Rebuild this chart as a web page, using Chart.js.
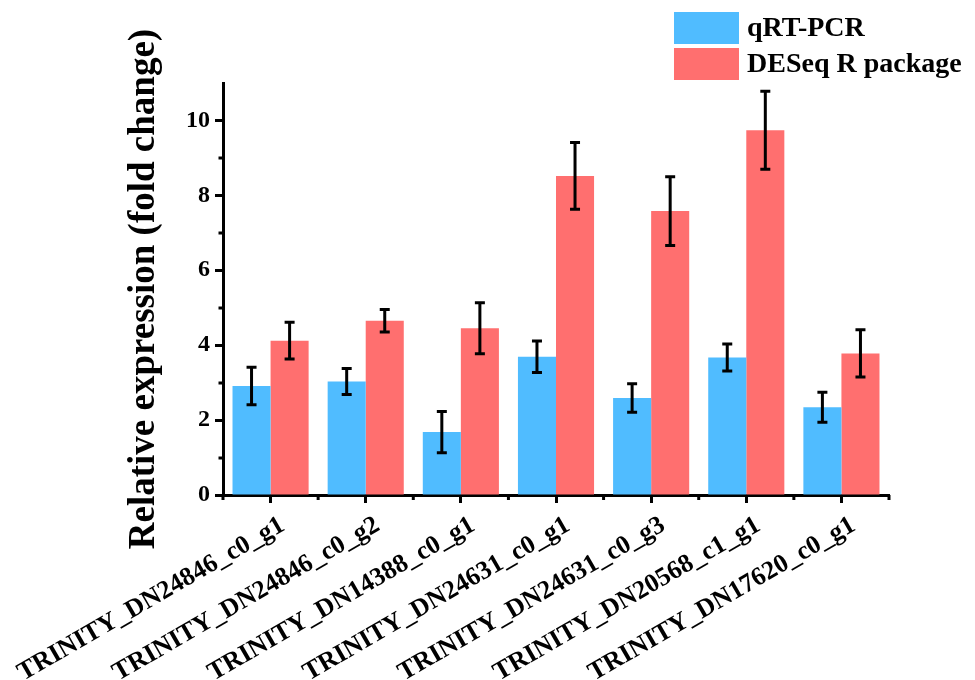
<!DOCTYPE html>
<html>
<head>
<meta charset="utf-8">
<script src="https://cdn.jsdelivr.net/npm/chart.js@4.4.1/dist/chart.umd.min.js"></script>
<style>
  html, body { margin: 0; padding: 0; background: #ffffff; }
  #wrap { width: 975px; height: 680px; position: relative; }
</style>
</head>
<body>
<div id="wrap"><canvas id="c" width="975" height="680"></canvas></div>
<script>
const categories = [
  'TRINITY_DN24846_c0_g1',
  'TRINITY_DN24846_c0_g2',
  'TRINITY_DN14388_c0_g1',
  'TRINITY_DN24631_c0_g1',
  'TRINITY_DN24631_c0_g3',
  'TRINITY_DN20568_c1_g1',
  'TRINITY_DN17620_c0_g1'
];
const seriesNames = ['qRT-PCR', 'DESeq R package'];
const qpcrValues = [2.91, 3.03, 1.68, 3.69, 2.59, 3.67, 2.34];
const qpcrErrors = [0.50, 0.35, 0.55, 0.42, 0.38, 0.36, 0.40];
const deseqValues = [4.12, 4.65, 4.45, 8.52, 7.58, 9.74, 3.78];
const deseqErrors = [0.49, 0.30, 0.68, 0.89, 0.92, 1.04, 0.63];
const yMajorTicks = [0, 2, 4, 6, 8, 10];
const yMinorTicks = [1, 3, 5, 7, 9];

const FONT = "'Liberation Serif', 'Times New Roman', serif";
const BLUE = 'rgb(80,188,255)';
const RED = 'rgb(255,111,111)';

const errorBarPlugin = {
  id: 'errorBars',
  afterDatasetsDraw(chart) {
    const ctx = chart.ctx;
    const y = chart.scales.y;
    ctx.save();
    ctx.strokeStyle = '#000';
    ctx.lineWidth = 3;
    ctx.lineCap = 'butt';
    chart.data.datasets.forEach((ds, di) => {
      const meta = chart.getDatasetMeta(di);
      meta.data.forEach((bar, i) => {
        const v = ds.data[i], e = ds.errors[i];
        const x = bar.x;
        const yt = y.getPixelForValue(v + e);
        const yb = y.getPixelForValue(v - e);
        ctx.beginPath();
        ctx.moveTo(x, yt); ctx.lineTo(x, yb);
        ctx.moveTo(x - 5, yt); ctx.lineTo(x + 5, yt);
        ctx.moveTo(x - 5, yb); ctx.lineTo(x + 5, yb);
        ctx.stroke();
      });
    });
    ctx.restore();
  }
};

const minorTickPlugin = {
  id: 'minorTicks',
  afterDraw(chart) {
    const ctx = chart.ctx;
    const xs = chart.scales.x, ys = chart.scales.y;
    const area = chart.chartArea;
    ctx.save();
    ctx.strokeStyle = '#000';
    ctx.lineWidth = 3;
    yMinorTicks.forEach(v => {
      const py = Math.round(ys.getPixelForValue(v));
      ctx.beginPath();
      ctx.moveTo(area.left - 4.5, py);
      ctx.lineTo(area.left, py);
      ctx.stroke();
    });
    const n = categories.length;
    const centers = categories.map((c, i) => xs.getPixelForValue(i));
    const half = (centers[1] - centers[0]) / 2;
    for (let i = 0; i <= n; i++) {
      const px = i === 0 ? centers[0] - half : centers[i - 1] + half;
      ctx.beginPath();
      ctx.moveTo(px, area.bottom);
      ctx.lineTo(px, area.bottom + 5);
      ctx.stroke();
    }
    ctx.restore();
  }
};

const legendPlugin = {
  id: 'customLegend',
  afterDraw(chart) {
    const ctx = chart.ctx;
    ctx.save();
    chart.data.datasets.forEach((ds, i) => {
      const bx = 674, by = 12 + i * 36, bw = 65, bh = 32;
      ctx.fillStyle = ds.backgroundColor;
      ctx.fillRect(bx, by, bw, bh);
      ctx.fillStyle = '#000';
      ctx.font = 'bold 28px ' + FONT;
      ctx.textAlign = 'left';
      ctx.textBaseline = 'middle';
      ctx.fillText(ds.label, 747, by + bh / 2 + 1);
    });
    ctx.restore();
  }
};

new Chart(document.getElementById('c'), {
  type: 'bar',
  data: {
    labels: categories,
    datasets: [
      { label: seriesNames[0], data: qpcrValues, errors: qpcrErrors, backgroundColor: BLUE,
        categoryPercentage: 0.8, barPercentage: 1.0 },
      { label: seriesNames[1], data: deseqValues, errors: deseqErrors, backgroundColor: RED,
        categoryPercentage: 0.8, barPercentage: 1.0 }
    ]
  },
  options: {
    responsive: false,
    animation: false,
    devicePixelRatio: 1,
    layout: { padding: { left: 122, top: 83, right: 86, bottom: 0 } },
    plugins: { legend: { display: false }, tooltip: { enabled: false } },
    scales: {
      x: {
        offset: true,
        grid: { display: true, drawOnChartArea: false, offset: false, tickLength: 8, tickWidth: 3, tickColor: '#000' },
        border: { display: true, color: '#000', width: 3 },
        ticks: {
          autoSkip: false, maxRotation: 30, minRotation: 30, padding: 7, labelOffset: 12,
          color: '#000', font: { family: FONT, size: 26, weight: 'bold' }
        },
        afterFit(scale) { scale.height = 185; scale.paddingLeft = 0; scale.paddingRight = 0; }
      },
      y: {
        min: 0, max: 11,
        grid: {
          display: true, drawOnChartArea: false, tickLength: 8, tickWidth: 3,
          tickColor: (c) => (yMajorTicks.includes(c.tick && c.tick.value) ? '#000' : 'rgba(0,0,0,0)')
        },
        border: { display: true, color: '#000', width: 3 },
        ticks: {
          stepSize: 1, padding: 5, color: '#000',
          font: { family: FONT, size: 24, weight: 'bold' },
          callback: (v) => (yMajorTicks.includes(v) ? String(v) : '')
        },
        title: {
          display: true, text: 'Relative expression (fold change)', color: '#000',
          padding: 0, font: { family: FONT, size: 37, weight: 'bold' }
        },
        afterFit(scale) { scale.width = 101; }
      }
    }
  },
  plugins: [errorBarPlugin, minorTickPlugin, legendPlugin]
});
</script>
</body>
</html>
